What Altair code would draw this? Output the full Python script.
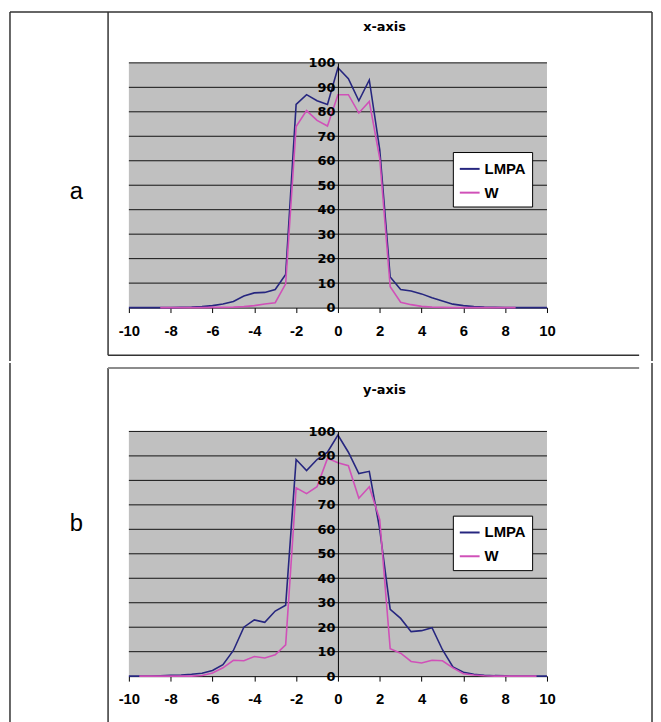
import altair as alt
import pandas as pd

# ---------------- data ----------------
x_vals = [-10, -9.5, -9, -8.5, -8, -7.5, -7, -6.5, -6, -5.5, -5, -4.5, -4, -3.5, -3, -2.5,
          -2, -1.5, -1, -0.5, 0, 0.5, 1, 1.5, 2, 2.5, 3, 3.5, 4, 4.5, 5, 5.5,
          6, 6.5, 7, 7.5, 8, 8.5, 9, 9.5, 10]

# panel a (x-axis)
a_lmpa = [0, 0, 0, 0, 0, 0.1, 0.2, 0.4, 0.8, 1.5, 2.5, 4.7, 6, 6.2, 7.4, 13.5,
          83, 87, 84.5, 83, 98, 93.5, 84.5, 93, 64.5, 12.5, 7.4, 6.8, 5.6, 4, 2.7, 1.4,
          0.8, 0.4, 0.2, 0.1, 0, 0, 0, 0, 0]
a_w_x = [-8.5, -8, -7.5, -7, -6.5, -6, -5.5, -5, -4.5, -4, -3.5, -3, -2.5,
         -2, -1.5, -1, -0.5, 0, 0.5, 1, 1.5, 2, 2.5, 3, 3.5, 4, 4.5, 5, 5.5,
         6, 6.5, 7, 7.5, 8, 8.5]
a_w = [0, 0, 0, 0, 0, 0.1, 0.1, 0.2, 0.4, 0.8, 1.5, 2, 9.7,
       74, 80.5, 76.5, 74.2, 87, 87, 79.5, 84.2, 61, 8.5, 2.2, 1.2, 0.5, 0.2, 0.1, 0,
       0, 0, 0, 0, 0, 0]

# panel b (y-axis)
b_lmpa = [0, 0, 0, 0.2, 0.4, 0.5, 0.8, 1.2, 2.3, 4.7, 10.5, 20, 23, 22, 26.6, 29,
          88.5, 84, 88.5, 91.5, 98.5, 91.5, 82.8, 83.7, 60, 27.3, 23.6, 18.2, 18.6, 19.8, 10.8, 3.8,
          1.6, 0.8, 0.4, 0.2, 0.1, 0, 0, 0, 0]
b_w_x = [-9.5, -9, -8.5, -8, -7.5, -7, -6.5, -6, -5.5, -5, -4.5, -4, -3.5, -3, -2.5,
         -2, -1.5, -1, -0.5, 0, 0.5, 1, 1.5, 2, 2.5, 3, 3.5, 4, 4.5, 5, 5.5,
         6, 6.5, 7, 7.5, 8, 8.5, 9, 9.5]
b_w = [0, 0, 0, 0, 0, 0, 0.3, 1.3, 3.4, 6.5, 6.3, 8, 7.4, 8.7, 12.8,
       77, 74.6, 77.4, 89, 87.2, 86, 72.7, 77.4, 64, 11.2, 9.4, 6, 5.4, 6.5, 6.3, 3.4,
       1, 0.5, 0.2, 0, 0, 0, 0, 0]

x_ticks = [-10, -8, -6, -4, -2, 0, 2, 4, 6, 8, 10]
y_ticks = [0, 10, 20, 30, 40, 50, 60, 70, 80, 90, 100]
series_names = ["LMPA", "W"]
panel_titles = ["x-axis", "y-axis"]
panel_labels = ["a", "b"]

# ---------------- style ----------------
FONT = "Liberation Sans"
WIDE = "DejaVu Sans"
BLUE = "#26267f"
PINK = "#d050b8"
PW, PH = 422, 247
ONE = pd.DataFrame({"k": [0]})


def long_df(lmpa, wx, w):
    rows = [{"x": x, "y": v, "series": "LMPA"} for x, v in zip(x_vals, lmpa)]
    rows += [{"x": x, "y": v, "series": "W"} for x, v in zip(wx, w)]
    return pd.DataFrame(rows)


def rule(x1, y1, x2, y2, color="#333333", w=1.5):
    return alt.Chart(ONE).mark_rule(color=color, strokeWidth=w).encode(
        x=alt.value(x1), y=alt.value(y1), x2=alt.value(x2), y2=alt.value(y2))


def text(t, x, y, size, weight, font):
    return alt.Chart(pd.DataFrame({"t": [t]})).mark_text(
        font=font, fontSize=size, fontWeight=weight, color="black",
        align="center", baseline="middle").encode(
        text="t:N", x=alt.value(x), y=alt.value(y))


def panel(df, title, label, legend_y, is_top):
    xscale = alt.Scale(domain=[-10, 10], nice=False, zero=False)
    yscale = alt.Scale(domain=[0, 100], nice=False)
    yaxis = alt.Axis(
        values=y_ticks, title=None, grid=False, offset=-PW / 2,
        domainColor="black", domainWidth=1, tickSize=0, labelFont=WIDE,
        labelFontSize=13, labelFontWeight="bold", labelColor="black",
        labelPadding=3, zindex=1, labelExpr="'' + datum.value")
    grid = alt.Chart(pd.DataFrame({"y": y_ticks[1:]})).mark_rule(
        color="#111111", strokeWidth=1).encode(
        y=alt.Y("y:Q", scale=yscale, axis=yaxis))
    lines = alt.Chart(df).mark_line(strokeWidth=1.6).encode(
        x=alt.X("x:Q", scale=xscale, axis=alt.Axis(
            values=x_ticks, title=None, grid=False, domainColor="black",
            domainWidth=1, tickColor="black", tickSize=5, labelFont=FONT,
            labelFontSize=15, labelFontWeight="bold", labelColor="black",
            labelPadding=11, labelFlush=False, labelExpr="'' + datum.value")),
        y=alt.Y("y:Q", scale=yscale, axis=yaxis),
        color=alt.Color("series:N", scale=alt.Scale(domain=series_names, range=[BLUE, PINK]),
                        legend=alt.Legend(
                            title=None, orient="none", legendX=327, legendY=legend_y,
                            fillColor="white", strokeColor="black", padding=6,
                            symbolType="stroke", symbolSize=400, symbolStrokeWidth=2,
                            labelFont=FONT, labelFontSize=15, labelFontWeight="bold",
                            labelColor="black", rowPadding=5, labelOffset=4)),
    )
    layers = [grid, lines]
    if is_top:
        top = -51.25
        bot = 301
        layers += [
            rule(-120, top, 528, top),           # outer top
            rule(-120, top, -120, bot),          # outer left
            rule(528, top, 528, bot),            # outer right
            rule(-21, top, -21, 295),            # chart box left
            rule(-21, 295, 515, 295),            # chart box bottom
        ]
        layers += [text(title, 258, -36, 13, "bold", WIDE),
                   text(label, -53, 130, 24, "normal", FONT)]
    else:
        top = -69
        layers += [
            rule(-120, top, -120, 300),
            rule(528, top, 528, 300),
            rule(-21, -64, -21, 300),
            rule(-21, -64, 515, -64, color="#8c8c8c", w=2),
        ]
        layers += [text(title, 258, -42, 13, "bold", WIDE),
                   text(label, -53, 93, 24, "normal", FONT)]
    return alt.layer(*layers).properties(width=PW, height=PH)


top_panel = panel(long_df(a_lmpa, a_w_x, a_w), panel_titles[0], panel_labels[0], 90, True)
bottom_panel = panel(long_df(b_lmpa, b_w_x, b_w), panel_titles[1], panel_labels[1], 85, False)

chart = alt.vconcat(top_panel, bottom_panel, spacing=0).resolve_scale(
    x="independent", y="independent", color="independent"
).resolve_legend(color="independent").properties(
    padding={"left": 1, "top": 0, "right": 0, "bottom": 0}
).configure_view(fill="#c0c0c0", stroke=None)

chart.save("out.html", embed_options={"renderer": "svg", "actions": False})
